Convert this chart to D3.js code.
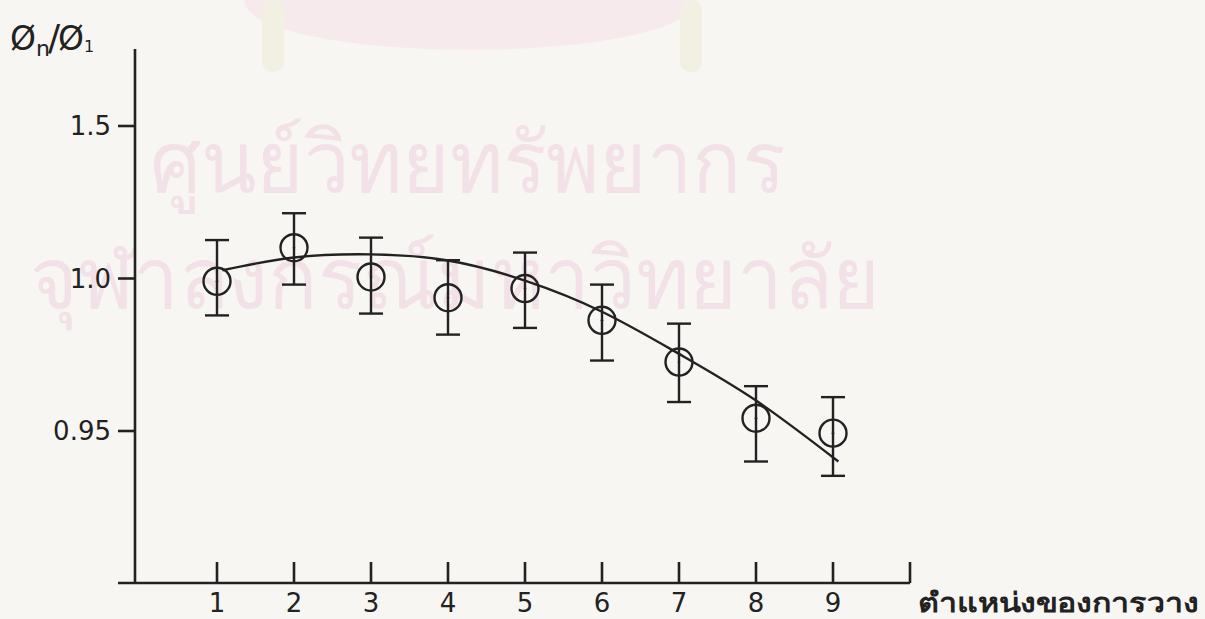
<!DOCTYPE html>
<html>
<head>
<meta charset="utf-8">
<script src="https://cdn.jsdelivr.net/npm/d3@7"></script>
<style>
  html, body { margin: 0; padding: 0; background: #f7f6f3; }
  svg { display: block; }
</style>
</head>
<body>
<script>
// positions of the samples
const positions = [1, 2, 3, 4, 5, 6, 7, 8, 9];
// measured ratio phi_n / phi_1 and error bar limits
const ratio = [0.9991, 1.0101, 1.0005, 0.9937, 0.9967, 0.9863, 0.9726, 0.9542, 0.9493];
const errHigh = [1.0126, 1.0214, 1.0134, 1.0060, 1.0085, 0.9980, 0.9852, 0.9647, 0.9611];
const errLow = [0.9879, 0.9980, 0.9885, 0.9816, 0.9838, 0.9731, 0.9595, 0.9400, 0.9353];
// hand drawn trend curve
const curveX = [1.07, 2, 3, 4, 5, 6, 7, 8, 9.07];
const curveY = [1.0027, 1.0069, 1.0079, 1.0059, 0.9993, 0.9891, 0.9753, 0.9600, 0.9400];
// axis ticks as printed
const yTicks = [0.95, 1.0, 1.05];
const yTickLabels = ["0.95", "1.0", "1.5"];
const xTicks = [1, 2, 3, 4, 5, 6, 7, 8, 9];
const xEnd = 10;

const width = 1205, height = 619;
const ink = "#222";
const num = "'DejaVu Sans', 'Liberation Sans', sans-serif";

const x = d3.scaleLinear().domain([1, 9]).range([217, 833]);
const y = d3.scaleLinear().domain([0.95, 1.05]).range([431, 126]);
const axisX = 135, axisY = 583, axisTop = 49;

const svg = d3.select("body").append("svg")
    .attr("width", width)
    .attr("height", height);

// faint library watermark from the scan
const wm = svg.append("g").attr("opacity", 0.3);
wm.append("ellipse")
    .attr("cx", 470).attr("cy", 2).attr("rx", 225).attr("ry", 48)
    .attr("fill", "#f4cfe0");
wm.selectAll("rect.pillar")
  .data([262, 680])
  .join("rect")
    .attr("x", d => d).attr("y", 0)
    .attr("width", 22).attr("height", 72).attr("rx", 10)
    .attr("fill", "#e9e0bf");
wm.append("text")
    .attr("x", 150).attr("y", 192)
    .attr("font-family", "sans-serif")
    .attr("font-size", 84)
    .attr("fill", "#e8b5cf")
    .attr("textLength", 635)
    .attr("lengthAdjust", "spacingAndGlyphs")
    .text("ศูนย์วิทยทรัพยากร");
wm.append("text")
    .attr("x", 30).attr("y", 308)
    .attr("font-family", "sans-serif")
    .attr("font-size", 84)
    .attr("fill", "#e8b5cf")
    .attr("textLength", 850)
    .attr("lengthAdjust", "spacingAndGlyphs")
    .text("จุฬาลงกรณ์มหาวิทยาลัย");

// axes
const axes = svg.append("g")
    .attr("stroke", ink)
    .attr("stroke-width", 2.6)
    .attr("fill", "none");

axes.append("line")
    .attr("x1", axisX).attr("x2", axisX)
    .attr("y1", axisTop).attr("y2", axisY);
axes.append("line")
    .attr("x1", 118).attr("x2", x(xEnd))
    .attr("y1", axisY).attr("y2", axisY);

axes.selectAll("line.xtick")
  .data(xTicks.concat([xEnd]))
  .join("line")
    .attr("class", "xtick")
    .attr("x1", d => x(d)).attr("x2", d => x(d))
    .attr("y1", axisY).attr("y2", axisY - 21);

axes.selectAll("line.ytick")
  .data(yTicks)
  .join("line")
    .attr("class", "ytick")
    .attr("x1", axisX - 17).attr("x2", axisX)
    .attr("y1", d => y(d)).attr("y2", d => y(d));

svg.append("g")
    .attr("font-family", num)
    .attr("font-size", 26)
    .attr("fill", ink)
  .selectAll("text")
  .data(yTicks)
  .join("text")
    .attr("x", 111)
    .attr("y", d => y(d))
    .attr("dy", "0.36em")
    .attr("text-anchor", "end")
    .text((d, i) => yTickLabels[i]);

svg.append("g")
    .attr("font-family", num)
    .attr("font-size", 26)
    .attr("fill", ink)
  .selectAll("text")
  .data(xTicks)
  .join("text")
    .attr("x", d => x(d))
    .attr("y", 612)
    .attr("text-anchor", "middle")
    .text(d => d);

// axis titles
const yTitle = svg.append("text")
    .attr("x", 10).attr("y", 50)
    .attr("font-family", num)
    .attr("font-size", 33)
    .attr("fill", ink);
yTitle.append("tspan").text("Ø");
yTitle.append("tspan").attr("font-size", 22).attr("dy", 6).text("n");
yTitle.append("tspan").attr("font-size", 36).attr("dy", -6).attr("dx", -2).text("/");
yTitle.append("tspan").attr("dx", -2).text("Ø");
yTitle.append("tspan").attr("font-size", 16).attr("dy", 2).text("1");

svg.append("text")
    .attr("x", 918).attr("y", 612)
    .attr("font-family", "sans-serif")
    .attr("font-size", 27)
    .attr("font-weight", "bold")
    .attr("fill", ink)
    .attr("textLength", 280)
    .attr("lengthAdjust", "spacingAndGlyphs")
    .text("ตำแหน่งของการวาง");

// trend curve
const line = d3.line()
    .x(d => x(d[0]))
    .y(d => y(d[1]))
    .curve(d3.curveNatural);

svg.append("path")
    .datum(curveX.map((v, i) => [v, curveY[i]]))
    .attr("d", line)
    .attr("fill", "none")
    .attr("stroke", ink)
    .attr("stroke-width", 2.4);

// error bars and markers
const pts = svg.append("g")
    .attr("stroke", ink)
    .attr("stroke-width", 2.4)
    .attr("fill", "none")
  .selectAll("g")
  .data(positions)
  .join("g");

pts.append("line")
    .attr("x1", d => x(d)).attr("x2", d => x(d))
    .attr("y1", (d, i) => y(errHigh[i])).attr("y2", (d, i) => y(errLow[i]));
pts.append("line")
    .attr("x1", d => x(d) - 12).attr("x2", d => x(d) + 12)
    .attr("y1", (d, i) => y(errHigh[i])).attr("y2", (d, i) => y(errHigh[i]));
pts.append("line")
    .attr("x1", d => x(d) - 12).attr("x2", d => x(d) + 12)
    .attr("y1", (d, i) => y(errLow[i])).attr("y2", (d, i) => y(errLow[i]));
pts.append("circle")
    .attr("cx", d => x(d))
    .attr("cy", (d, i) => y(ratio[i]))
    .attr("r", 13.5);
pts.append("circle")
    .attr("cx", d => x(d))
    .attr("cy", (d, i) => y(ratio[i]))
    .attr("r", 1.3)
    .attr("fill", ink)
    .attr("stroke", "none");
</script>
</body>
</html>
